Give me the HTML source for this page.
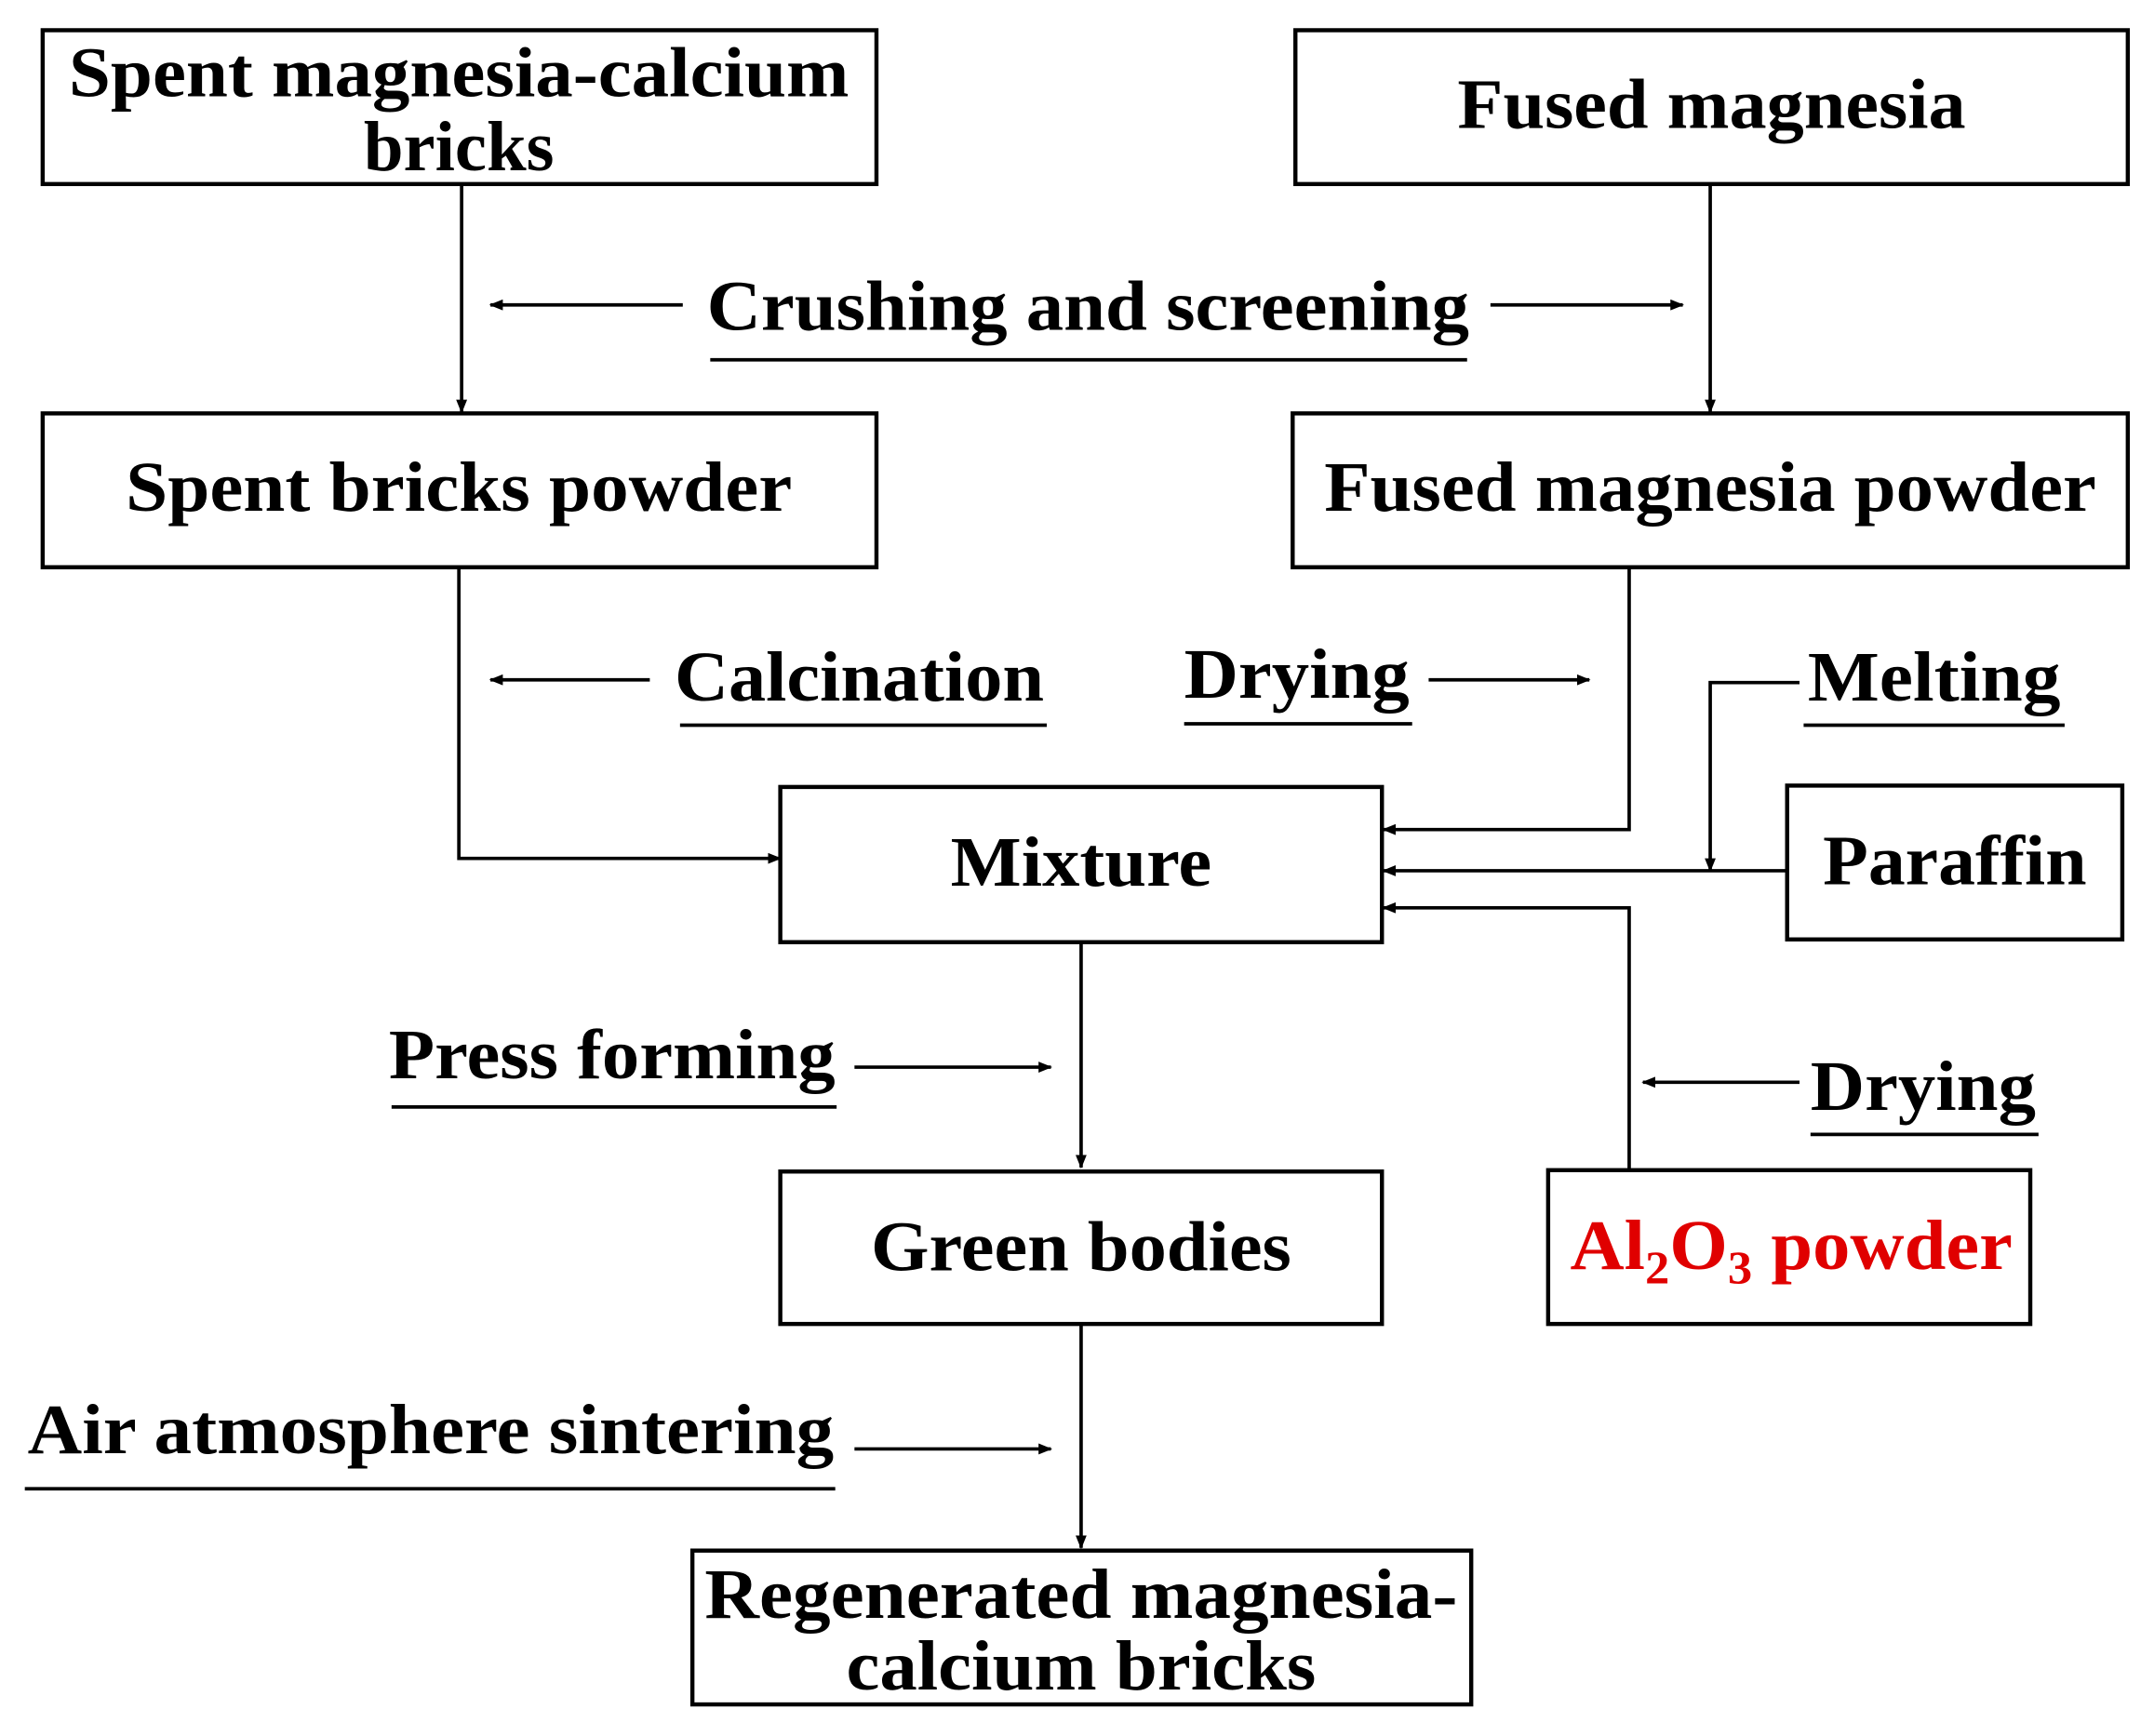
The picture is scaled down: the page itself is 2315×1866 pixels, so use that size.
<!DOCTYPE html>
<html><head><meta charset="utf-8"><style>
html,body{margin:0;padding:0;background:#fff}
svg{display:block}
text{font-family:"Liberation Serif",serif;font-weight:bold;font-size:52px;fill:#000}
</style></head><body>
<svg width="2315" height="1866" viewBox="0 0 1568 1264" xmlns="http://www.w3.org/2000/svg">
<defs><marker id="a" markerWidth="10" markerHeight="8" refX="9" refY="4" orient="auto" markerUnits="userSpaceOnUse"><path d="M0,0 L10,4 L0,8 z" fill="#000"/></marker></defs>
<g fill="none" stroke="#000" stroke-width="3">
<rect x="31" y="22" width="607" height="112"/>
<rect x="943" y="22" width="606" height="112"/>
<rect x="31" y="301" width="607" height="112"/>
<rect x="941" y="301" width="608" height="112"/>
<rect x="568" y="573" width="438" height="113"/>
<rect x="1301" y="572" width="244" height="112"/>
<rect x="1127" y="852" width="351" height="112"/>
<rect x="568" y="853" width="438" height="111"/>
<rect x="504" y="1129" width="567" height="112"/>
</g>
<g fill="none" stroke="#000" stroke-width="2.5" marker-end="url(#a)">
<path d="M336,134 V300"/>
<path d="M1245,134 V300"/>
<path d="M497,222 H357"/>
<path d="M1085,222 H1225"/>
<path d="M334,413 V625 H568"/>
<path d="M473,495 H357"/>
<path d="M1040,495 H1157"/>
<path d="M1186,413 V604 H1007"/>
<path d="M1301,634 H1007"/>
<path d="M1310,497 H1245 V634"/>
<path d="M1186,852 V661 H1007"/>
<path d="M1310,788 H1196"/>
<path d="M787,686 V850"/>
<path d="M622,777 H765"/>
<path d="M787,964 V1127"/>
<path d="M622,1055 H765"/>
</g>
<g stroke="#000" stroke-width="2.5">
<line x1="517" y1="262" x2="1068" y2="262"/>
<line x1="495" y1="528" x2="762" y2="528"/>
<line x1="862" y1="527" x2="1028" y2="527"/>
<line x1="1313" y1="528" x2="1503" y2="528"/>
<line x1="1318" y1="826" x2="1484" y2="826"/>
<line x1="285" y1="806" x2="609" y2="806"/>
<line x1="18" y1="1084" x2="608" y2="1084"/>
</g>
<text x="334" y="70" text-anchor="middle" textLength="568" lengthAdjust="spacingAndGlyphs">Spent magnesia-calcium</text>
<text x="334" y="124" text-anchor="middle">bricks</text>
<text x="1246" y="93" text-anchor="middle" textLength="370" lengthAdjust="spacingAndGlyphs">Fused magnesia</text>
<text x="334" y="372" text-anchor="middle" textLength="485" lengthAdjust="spacingAndGlyphs">Spent bricks powder</text>
<text x="1245" y="372" text-anchor="middle" textLength="562" lengthAdjust="spacingAndGlyphs">Fused magnesia powder</text>
<text x="792" y="240" text-anchor="middle" textLength="555" lengthAdjust="spacingAndGlyphs">Crushing and screening</text>
<text x="491" y="510" textLength="269" lengthAdjust="spacingAndGlyphs">Calcination</text>
<text x="862" y="508" textLength="164" lengthAdjust="spacingAndGlyphs">Drying</text>
<text x="1316" y="510" textLength="184" lengthAdjust="spacingAndGlyphs">Melting</text>
<text x="787" y="645" text-anchor="middle" textLength="190" lengthAdjust="spacingAndGlyphs">Mixture</text>
<text x="1423" y="644" text-anchor="middle" textLength="192" lengthAdjust="spacingAndGlyphs">Paraffin</text>
<text x="1318" y="808" textLength="164" lengthAdjust="spacingAndGlyphs">Drying</text>
<text x="283" y="785" textLength="325" lengthAdjust="spacingAndGlyphs">Press forming</text>
<text x="787" y="925" text-anchor="middle" textLength="306" lengthAdjust="spacingAndGlyphs">Green bodies</text>
<text x="1143" y="924" style="fill:#e00000" textLength="322" lengthAdjust="spacingAndGlyphs">Al<tspan font-size="34" dy="10">2</tspan><tspan dy="-10">O</tspan><tspan font-size="34" dy="10">3</tspan><tspan dy="-10"> powder</tspan></text>
<text x="20" y="1058" textLength="587" lengthAdjust="spacingAndGlyphs">Air atmosphere sintering</text>
<text x="787" y="1178" text-anchor="middle" textLength="548" lengthAdjust="spacingAndGlyphs">Regenerated magnesia-</text>
<text x="787" y="1230" text-anchor="middle" textLength="342" lengthAdjust="spacingAndGlyphs">calcium bricks</text>
</svg>
</body></html>
